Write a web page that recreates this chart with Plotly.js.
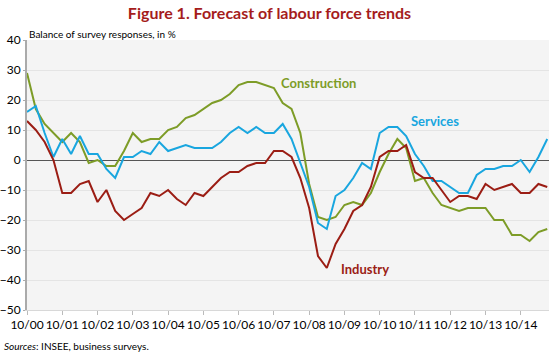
<!DOCTYPE html>
<html>
<head>
<meta charset="utf-8">
<script src="https://cdn.plot.ly/plotly-3.0.1.min.js"></script>
<style>html,body{margin:0;padding:0;background:#fff;}#chart{width:550px;height:352px;}</style>
</head>
<body>
<div id="chart"></div>
<script>
// Quarterly observations, Q4 2000 (10/00) onwards
const tickLabels = ["10/00","10/01","10/02","10/03","10/04","10/05","10/06","10/07","10/08","10/09","10/10","10/11","10/12","10/13","10/14"];
const industry = [13,10,6,0,-11,-11,-8,-7,-14,-10,
  -17,-20,-18,-16,-11,-12,-10,-13,-15,-11,
  -12,-9,-6,-4,-4,-2,-1,-1,3,3,
  1,-6,-16,-32,-36,-28,-23,-17,-15,-9,
  1,3,3,5,-4,-6,-6,-10,-14,-12,
  -12,-13,-8,-10,-9,-8,-11,-11,-8,-9];
const construction = [29,17,12,9,6,9,6,-1,0,-2,
  -2,3,9,6,7,7,10,11,14,15,
  17,19,20,22,25,26,26,25,24,19,
  17,9,-8,-19,-20,-19,-15,-14,-15,-11,
  -4,2,7,4,-7,-6,-11,-15,-16,-17,
  -16,-16,-16,-20,-20,-25,-25,-27,-24,-23];
const services = [16,18,9,1,7,2,8,2,2,-3,
  -6,1,1,3,2,6,3,4,5,4,
  4,4,6,9,11,9,11,9,9,12,
  7,-1,-9,-21,-23,-12,-10,-6,-1,-3,
  9,11,11,8,2,-2,-7,-7,-9,-11,
  -11,-5,-3,-3,-2,-2,0,-4,1,7];

const xq = industry.map((_, i) => i);
const tickVals = tickLabels.map((_, i) => i * 4);

const cInd = "#9b1d14", cCon = "#7d9c27", cSer = "#19a6df";
const font = "Lato, 'Open Sans', sans-serif";

const traces = [
  {x: xq, y: construction, type: "scatter", mode: "lines", line: {color: cCon, width: 2}, name: "Construction", hoverinfo: "skip"},
  {x: xq, y: services, type: "scatter", mode: "lines", line: {color: cSer, width: 2}, name: "Services", hoverinfo: "skip"},
  {x: xq, y: industry, type: "scatter", mode: "lines", line: {color: cInd, width: 2}, name: "Industry", hoverinfo: "skip"}
];

const layout = {
  width: 550, height: 352,
  margin: {l: 27, r: 1, t: 40, b: 42},
  paper_bgcolor: "#ffffff",
  plot_bgcolor: "#f4f4f4",
  showlegend: false,
  font: {family: font, size: 12, color: "#000"},
  title: {text: "<b>Figure 1. Forecast of labour force trends</b>", font: {family: font, size: 16, color: "#a51c1c"}, x: 0.49, xanchor: "center", y: 0.963, yanchor: "middle"},
  xaxis: {
    range: [0, 59.2], tickmode: "array", tickvals: tickVals, ticktext: tickLabels, tickangle: 0,
    showgrid: false, zeroline: false, showline: true, linecolor: "#d8d8d8", linewidth: 1,
    ticks: "outside", ticklen: 4, tickcolor: "#bbbbbb", tickfont: {size: 12, color: "#000"}
  },
  yaxis: {
    range: [-50, 40], dtick: 10, tick0: 0,
    showgrid: true, gridcolor: "#e4e4e4", gridwidth: 1,
    zeroline: true, zerolinecolor: "#555555", zerolinewidth: 1,
    showline: true, linecolor: "#aaaaaa", linewidth: 2,
    ticks: "outside", ticklen: 2, tickcolor: "#aaaaaa",
    tickfont: {size: 12, color: "#000"}
  },
  annotations: [
    {text: "Balance of survey responses, in %", xref: "paper", yref: "paper", x: 0, y: 1, xanchor: "left", yanchor: "bottom", yshift: -2, showarrow: false, font: {size: 10, color: "#000"}},
    {text: "<b>Construction</b>", x: 28.6, y: 25.7, xanchor: "left", yanchor: "middle", showarrow: false, font: {size: 13, color: cCon}},
    {text: "<b>Services</b>", x: 43.3, y: 13, xanchor: "left", yanchor: "middle", showarrow: false, font: {size: 13, color: cSer}},
    {text: "<b>Industry</b>", x: 35.4, y: -36.3, xanchor: "left", yanchor: "middle", showarrow: false, font: {size: 13, color: cInd}},
    {text: "<i>Sources</i>: INSEE, business surveys.", xref: "paper", yref: "paper", x: -0.047, y: 0, xanchor: "left", yanchor: "top", yshift: -28, showarrow: false, font: {size: 10, color: "#000"}}
  ]
};

Plotly.newPlot("chart", traces, layout, {displayModeBar: false, staticPlot: true});
</script>
</body>
</html>
